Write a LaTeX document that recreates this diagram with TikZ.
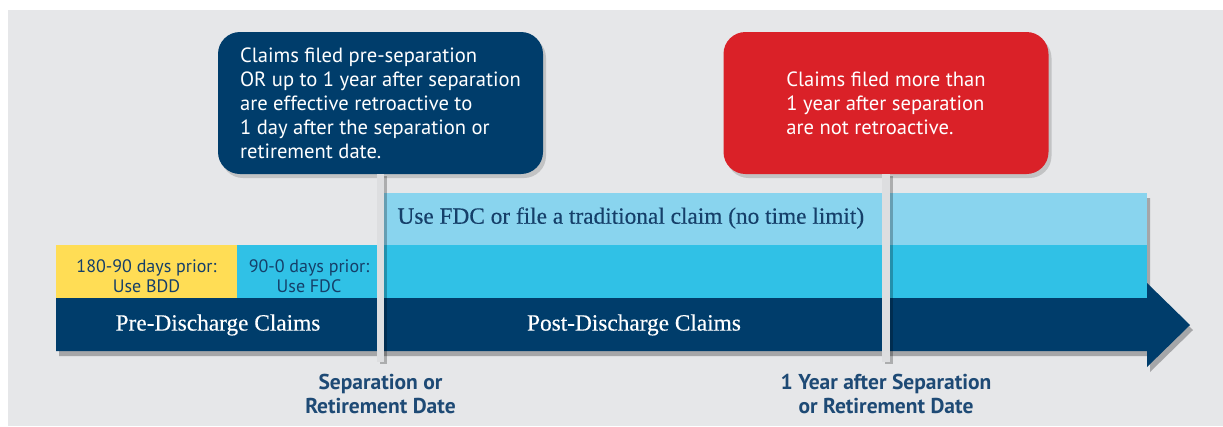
\documentclass[tikz,border=0pt]{standalone}
\usepackage{fontspec}
\setmainfont{Liberation Serif}
\newfontfamily\serifsb[FakeBold=0.35]{Liberation Serif}
\newfontfamily\ptsans{PT Sans}
\usetikzlibrary{shadows}
\definecolor{bgc}{HTML}{E6E7E9}
\definecolor{navyc}{HTML}{003D6B}
\definecolor{redc}{HTML}{DA2128}
\definecolor{lblue}{HTML}{89D4EE}
\definecolor{cyanc}{HTML}{30C1E6}
\definecolor{yell}{HTML}{FFDD55}
\definecolor{polec}{HTML}{DDDEE0}
\definecolor{txtnavy}{HTML}{153F69}
\definecolor{lblnavy}{HTML}{1E4A75}
\begin{document}
\begin{tikzpicture}[x=1pt,y=-1pt,
  callout/.style={rounded corners=22pt, minimum width=325pt, minimum height=142pt,
    align=left, text=white, font=\ptsans\fontsize{20.6}{24}\selectfont,
    drop shadow={opacity=0.35, shadow xshift=3pt, shadow yshift=-4pt}},
  bandtxt/.style={font=\serifsb\fontsize{23.3}{26}\selectfont},
  smalltxt/.style={align=center, text=txtnavy, font=\ptsans\fontsize{18}{20}\selectfont},
  datelbl/.style={align=center, text=lblnavy, font=\ptsans\bfseries\fontsize{21.5}{24}\selectfont},
  pole/.style={draw=polec, line width=7.5pt,
    preaction={draw=black, opacity=0.25, line width=7.5pt, transform canvas={shift={(3pt,-2pt)}}}}
]
\useasboundingbox (0,0) rectangle (1223,426);
\fill[white] (0,0) rectangle (1223,426);
\fill[bgc] (8,10) rectangle (1223,426);
% shadow of the timeline
\fill[black, opacity=0.28, shift={(3,5)}]
  (384,193) -- (1147,193) -- (1147,283) -- (1190,325) -- (1147,367) -- (1147,351)
  -- (56,351) -- (56,245) -- (384,245) -- cycle;
% timeline arrow
\fill[navyc] (56,298) -- (1147,298) -- (1147,283) -- (1190,325) -- (1147,367)
  -- (1147,351) -- (56,351) -- cycle;
\fill[yell] (56,245) rectangle (237,298);
\fill[cyanc] (237,245) rectangle (1147,298);
\fill[lblue] (384,193) rectangle (1147,245);
% callouts
\node[callout, fill=navyc] (b1) at (380.5,103)
  {Claims filed pre-separation\\OR up to 1 year after separation\\are effective retroactive to\\1 day after the separation or\\retirement date.};
\node[callout, fill=redc] (b2) at (886,103)
  {Claims filed more than\\1 year after separation\\are not retroactive.};
% poles
\coordinate (p1) at (380.5,362);
\coordinate (p2) at (886,362);
\draw[pole] (b1.south) -- (p1);
\draw[pole] (b2.south) -- (p2);
% band labels
\node[bandtxt, text=txtnavy, anchor=west] (ufdc) at (394,218)
  {Use FDC or file a traditional claim (no time limit)};
\node[smalltxt] (bdd) at (146.5,276) {180-90 days prior:\\Use BDD};
\node[smalltxt] (fdc) at (309,276) {90-0 days prior:\\Use FDC};
\node[bandtxt, text=white] (pre) at (218,325) {Pre-Discharge Claims};
\node[bandtxt, text=white] (post) at (634,325) {Post-Discharge Claims};
% date labels
\node[datelbl] (lsep) at (380.5,394) {Separation or\\Retirement Date};
\node[datelbl] (lyear) at (886,394) {1 Year after Separation\\or Retirement Date};
\end{tikzpicture}
\end{document}
